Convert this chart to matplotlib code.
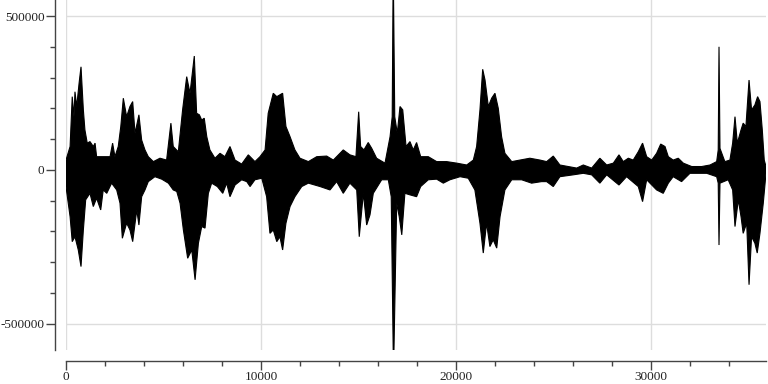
import numpy as np
import matplotlib
matplotlib.use("Agg")
import matplotlib.pyplot as plt
from matplotlib.ticker import MultipleLocator, FixedLocator

# Upper envelope of the waveform (sample index, amplitude)
upper_x = [0, 210, 320, 410, 460, 550, 670, 770, 890, 970, 1090, 1230, 1400, 1490, 1570,
           1910, 2260, 2390, 2510, 2680, 2810, 2940, 3110, 3280, 3420, 3540, 3740, 3880,
           4050, 4220, 4480, 4820, 5160, 5380, 5500, 5760, 5980, 6190, 6360, 6580, 6700,
           6840, 6960, 7090, 7220, 7380, 7640, 7900, 8150, 8410, 8670, 9010, 9350, 9690,
           9950, 10210, 10370, 10630, 10810, 11110, 11280, 11490, 11740, 12000, 12430,
           12860, 13370, 13710, 14220, 14560, 14870, 15010, 15110, 15280, 15500, 15680,
           15930, 16360, 16620, 16730, 16770, 16800, 16860, 16990, 17130, 17270, 17440,
           17640, 17810, 17980, 18190, 18580, 19010, 19520, 20040, 20550, 20890, 21060,
           21230, 21370, 21490, 21660, 21830, 22000, 22170, 22340, 22510, 22860, 23280,
           23790, 24310, 24650, 24990, 25330, 25760, 26190, 26530, 26960, 27380, 27730,
           28070, 28360, 28580, 28840, 29090, 29350, 29570, 29780, 30040, 30290, 30500,
           30720, 30890, 31140, 31400, 31660, 32090, 32600, 33030, 33370, 33450, 33490,
           33540, 33790, 34050, 34190, 34310, 34430, 34620, 34730, 34870, 35030, 35160,
           35330, 35470, 35590, 35710, 35810, 35900]
upper_y = [32000, 76000, 238000, 173000, 254000, 206000, 281000, 335000, 195000, 130000,
           87000, 92000, 76000, 87000, 43000, 43000, 43000, 87000, 43000, 76000, 141000,
           233000, 173000, 206000, 222000, 119000, 179000, 97000, 65000, 43000, 27000,
           38000, 32000, 152000, 76000, 59000, 195000, 303000, 249000, 370000, 184000,
           179000, 162000, 168000, 108000, 65000, 38000, 54000, 43000, 76000, 32000,
           19000, 49000, 27000, 43000, 65000, 184000, 249000, 238000, 249000, 141000,
           108000, 65000, 38000, 27000, 43000, 45000, 32000, 65000, 49000, 43000, 189000,
           76000, 65000, 89000, 70000, 38000, 22000, 108000, 173000, 552000, 552000,
           173000, 119000, 206000, 195000, 76000, 92000, 65000, 89000, 43000, 43000,
           27000, 27000, 22000, 16000, 32000, 76000, 195000, 327000, 292000, 206000,
           233000, 249000, 200000, 108000, 54000, 27000, 32000, 38000, 32000, 27000,
           45000, 16000, 11000, 6000, 16000, 6000, 38000, 16000, 22000, 49000, 27000,
           38000, 32000, 59000, 87000, 43000, 32000, 54000, 84000, 76000, 43000, 32000,
           38000, 22000, 11000, 11000, 16000, 27000, 65000, 400000, 70000, 27000, 32000,
           87000, 173000, 87000, 130000, 152000, 141000, 292000, 195000, 211000, 238000,
           222000, 130000, 32000, 11000]

# Lower envelope of the waveform (sample index, amplitude)
lower_x = [0, 210, 320, 460, 630, 770, 890, 1010, 1230, 1400, 1570, 1780, 1910, 2090,
           2340, 2600, 2770, 2890, 3110, 3280, 3420, 3630, 3740, 3880, 4050, 4220, 4560,
           4910, 5250, 5500, 5680, 5850, 6020, 6240, 6450, 6620, 6790, 6960, 7130, 7300,
           7470, 7760, 8040, 8240, 8410, 8670, 9010, 9270, 9440, 9690, 10040, 10290,
           10460, 10630, 10810, 10970, 11110, 11280, 11490, 11740, 12090, 12430, 13030,
           13540, 13880, 14220, 14560, 14910, 15040, 15250, 15420, 15590, 15760, 16190,
           16530, 16680, 16780, 16820, 16960, 17090, 17220, 17380, 17640, 17980, 18190,
           18580, 19010, 19350, 19690, 20210, 20630, 20970, 21230, 21400, 21570, 21740,
           21910, 22090, 22260, 22510, 22860, 23370, 23880, 24390, 24650, 24990, 25330,
           26010, 26530, 26960, 27380, 27730, 28360, 28750, 29350, 29570, 29780, 30290,
           30630, 30890, 31140, 31570, 32000, 32860, 33370, 33450, 33490, 33540, 33960,
           34190, 34310, 34480, 34620, 34730, 34910, 35030, 35160, 35330, 35450, 35590,
           35760, 35900]
lower_y = [-54000, -152000, -233000, -217000, -260000, -314000, -195000, -97000, -76000,
           -119000, -92000, -130000, -65000, -76000, -43000, -65000, -108000, -222000,
           -173000, -195000, -233000, -130000, -179000, -87000, -65000, -38000, -22000,
           -30000, -43000, -65000, -70000, -108000, -195000, -287000, -260000, -357000,
           -238000, -184000, -189000, -76000, -43000, -54000, -76000, -43000, -87000,
           -49000, -32000, -38000, -54000, -32000, -27000, -87000, -206000, -195000,
           -233000, -217000, -260000, -173000, -119000, -87000, -54000, -43000, -54000,
           -65000, -38000, -76000, -43000, -65000, -217000, -76000, -179000, -146000,
           -76000, -32000, -32000, -87000, -585000, -585000, -108000, -152000, -211000,
           -76000, -81000, -87000, -54000, -32000, -30000, -43000, -32000, -22000,
           -27000, -65000, -173000, -270000, -173000, -249000, -227000, -254000,
           -152000, -65000, -32000, -32000, -43000, -38000, -38000, -54000, -22000,
           -16000, -11000, -16000, -43000, -16000, -49000, -22000, -54000, -103000,
           -32000, -65000, -76000, -43000, -22000, -38000, -11000, -11000, -22000,
           -43000, -244000, -43000, -32000, -65000, -184000, -97000, -152000, -206000,
           -173000, -373000, -217000, -238000, -270000, -206000, -108000, -11000]

x_major = [0, 10000, 20000, 30000]
y_major = [-500000, 0, 500000]

plt.rcParams['font.family'] = ['Liberation Serif', 'DejaVu Serif']
plt.rcParams['axes.unicode_minus'] = False

fig = plt.figure(figsize=(7.68, 3.84), dpi=100)
ax = fig.add_axes([66/768, 34/384, 700/768, 350/384])

ux, uy = np.array(upper_x), np.array(upper_y)
lx, ly = np.array(lower_x), np.array(lower_y)
ax.fill(np.r_[ux, lx[::-1]], np.r_[uy, ly[::-1]], facecolor='black',
        edgecolor='black', lw=0.8, zorder=3)

ax.set_xlim(0, max(upper_x[-1], lower_x[-1]))
ax.set_ylim(min(lower_y), max(upper_y))

ax.xaxis.set_major_locator(FixedLocator(x_major))
ax.xaxis.set_minor_locator(MultipleLocator(2000))
ax.yaxis.set_major_locator(FixedLocator(y_major))
ax.yaxis.set_minor_locator(MultipleLocator(100000))
ax.set_xticklabels([str(v) for v in x_major])
ax.set_yticklabels([str(v) for v in y_major])

ax.grid(True, which='major', color='#dddddd', lw=1.0, zorder=0)
for s in ['top', 'right']:
    ax.spines[s].set_visible(False)
ax.spines['left'].set_position(('outward', 8))
ax.spines['bottom'].set_position(('outward', 8))
for s in ['left', 'bottom']:
    ax.spines[s].set_color('#444444')
    ax.spines[s].set_linewidth(1.0)

ax.tick_params(which='major', length=6.5, width=1, color='#444444',
               labelsize=9.5, labelcolor='#222222')
ax.tick_params(which='minor', length=3.6, width=1, color='#444444')
ax.tick_params(axis='x', which='major', pad=0.8)
ax.tick_params(axis='y', which='major', pad=1.0)

fig.savefig('out.png', dpi=100)
